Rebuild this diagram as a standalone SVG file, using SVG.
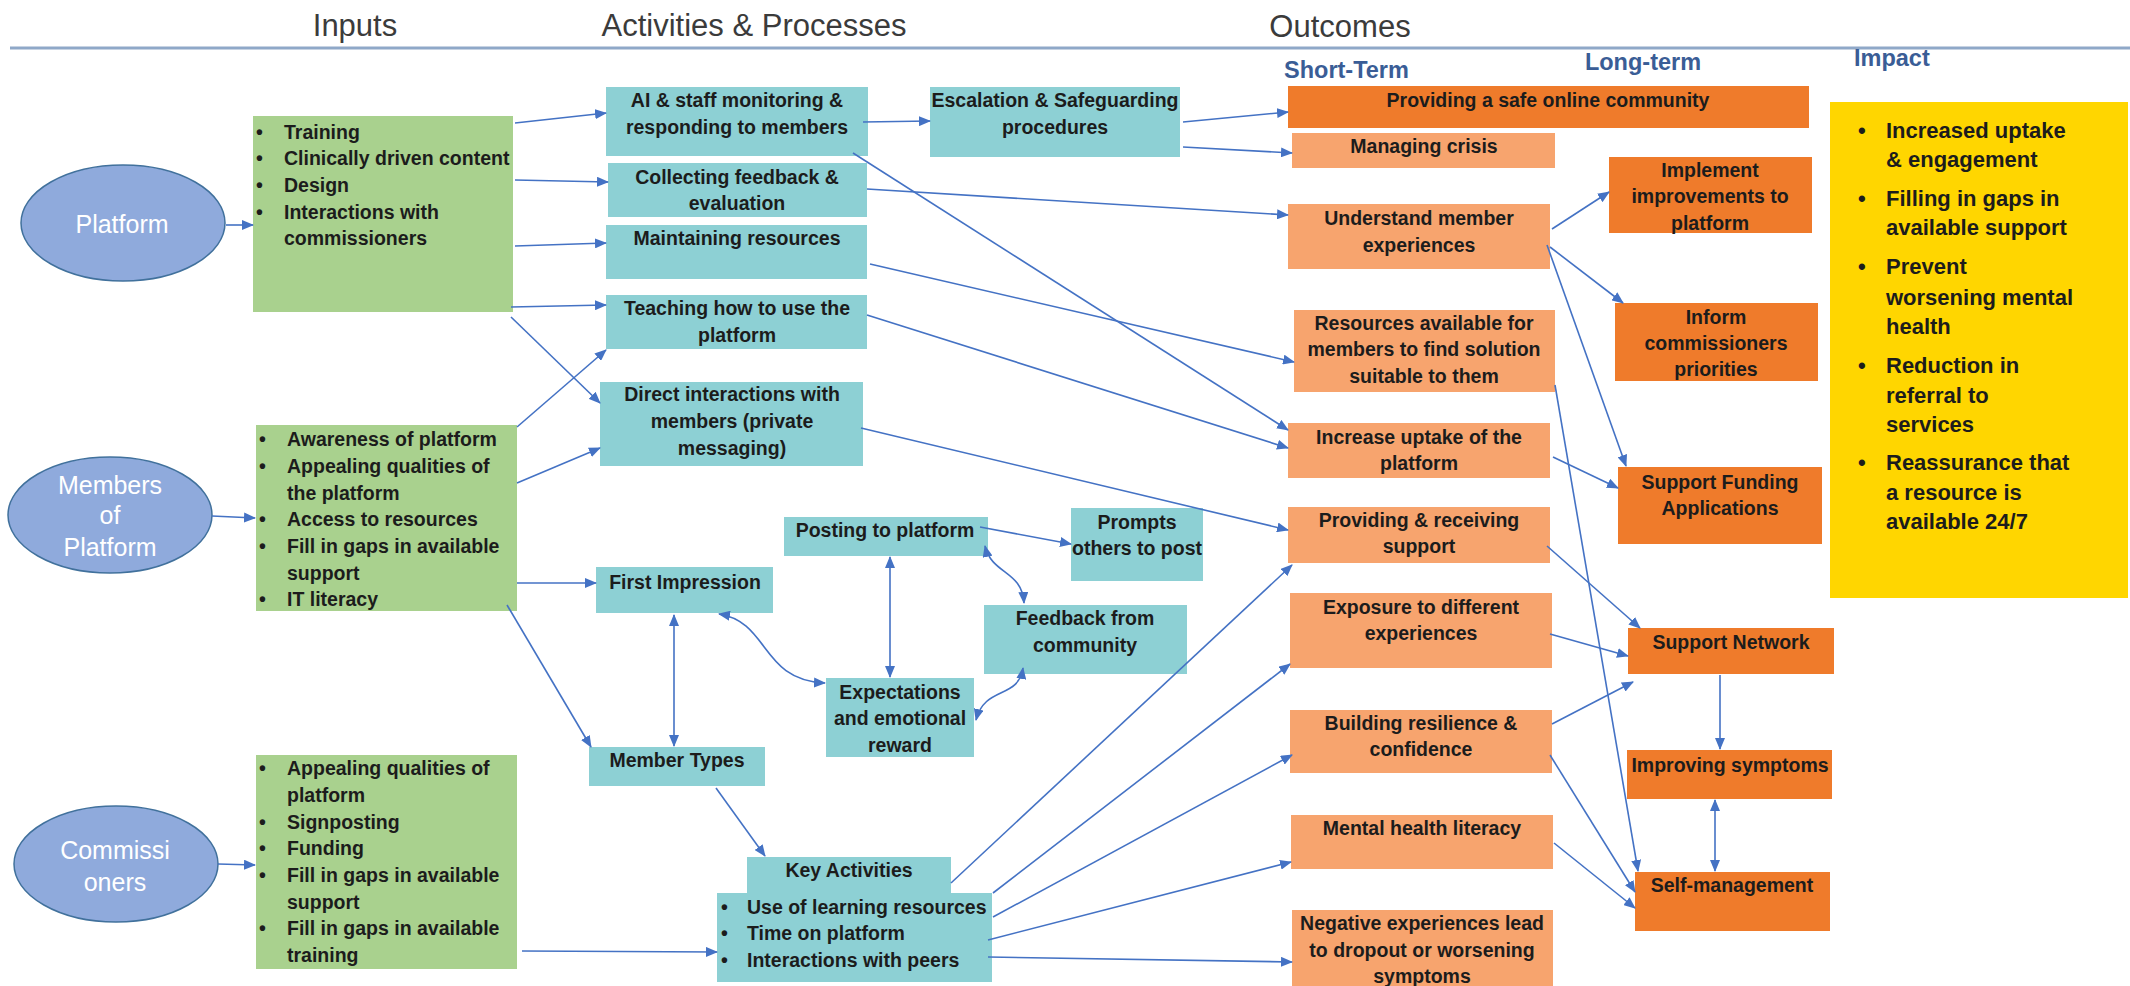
<svg xmlns="http://www.w3.org/2000/svg" width="2130" height="986" viewBox="0 0 2130 986">
<style>
.hdr{font-family:'Liberation Sans',Arial,sans-serif;font-size:31px;fill:#3b3b3b;text-anchor:middle}
.sub{font-family:'Liberation Sans',Arial,sans-serif;font-weight:bold;font-size:23.5px;fill:#3A5D96}
.ell{fill:#8FAADC;stroke:#41719C;stroke-width:1.5}
.et{font-family:'Liberation Sans',Arial,sans-serif;font-size:25px;fill:#ffffff;text-anchor:middle}
.g{fill:#A9D18E}
.tl{fill:#8DD0D4}
.so{fill:#F7A46E}
.lo{fill:#EF7B2B}
.yl{fill:#FFD600}
.bt{font-family:'Liberation Sans',Arial,sans-serif;font-weight:bold;font-size:19.5px;fill:#1c1c1c}
.c{text-anchor:middle}
.yt{font-family:'Liberation Sans',Arial,sans-serif;font-weight:bold;font-size:22px;fill:#1c1c1c}
.cn{fill:none;stroke:#4472C4;stroke-width:1.6;marker-end:url(#ah)}
.dbl{marker-start:url(#ah)}
</style>
<defs>
<marker id="ah" viewBox="0 0 12 10" refX="11" refY="5" markerWidth="12" markerHeight="10" markerUnits="userSpaceOnUse" orient="auto-start-reverse">
<path d="M0,0 L12,5 L0,10 z" fill="#4472C4"/>
</marker>
</defs>
<rect width="2130" height="986" fill="#ffffff"/>

<g id="header">
<text class="hdr" x="355" y="36">Inputs</text>
<text class="hdr" x="754" y="36">Activities &amp; Processes</text>
<text class="hdr" x="1340" y="37">Outcomes</text>
<line x1="10" y1="48" x2="2130" y2="48" stroke="#8FA8C8" stroke-width="3"/>
<text class="sub" x="1284" y="78">Short-Term</text>
<text class="sub c" x="1643" y="70">Long-term</text>
<text class="sub" x="1854" y="66">Impact</text>
</g>

<g id="platform"><ellipse class="ell" cx="123" cy="223" rx="102" ry="58"/><text class="et" x="122" y="233">Platform</text></g>
<g id="members"><ellipse class="ell" cx="110" cy="515" rx="102" ry="58"/><text class="et" x="110" y="494">Members</text><text class="et" x="110" y="524">of</text><text class="et" x="110" y="556">Platform</text></g>
<g id="commissioners"><ellipse class="ell" cx="116" cy="864" rx="102" ry="58"/><text class="et" x="115" y="859">Commissi</text><text class="et" x="115" y="891">oners</text></g>

<g id="inputs-platform"><rect class="g" x="253" y="116" width="260" height="196"/>
<text class="bt" x="256" y="139">•</text><text class="bt" x="284" y="139">Training</text>
<text class="bt" x="256" y="165">•</text><text class="bt" x="284" y="165">Clinically  driven content</text>
<text class="bt" x="256" y="192">•</text><text class="bt" x="284" y="192">Design</text>
<text class="bt" x="256" y="219">•</text><text class="bt" x="284" y="219">Interactions with</text>
<text class="bt" x="284" y="245">commissioners</text>
</g>
<g id="inputs-members"><rect class="g" x="256" y="425" width="261" height="186"/>
<text class="bt" x="259" y="446">•</text><text class="bt" x="287" y="446">Awareness of platform</text>
<text class="bt" x="259" y="473">•</text><text class="bt" x="287" y="473">Appealing  qualities of</text>
<text class="bt" x="287" y="500">the platform</text>
<text class="bt" x="259" y="526">•</text><text class="bt" x="287" y="526">Access to resources</text>
<text class="bt" x="259" y="553">•</text><text class="bt" x="287" y="553">Fill in gaps in available</text>
<text class="bt" x="287" y="580">support</text>
<text class="bt" x="259" y="606">•</text><text class="bt" x="287" y="606">IT literacy</text>
</g>
<g id="inputs-commissioners"><rect class="g" x="256" y="755" width="261" height="214"/>
<text class="bt" x="259" y="775">•</text><text class="bt" x="287" y="775">Appealing  qualities of</text>
<text class="bt" x="287" y="802">platform</text>
<text class="bt" x="259" y="829">•</text><text class="bt" x="287" y="829">Signposting</text>
<text class="bt" x="259" y="855">•</text><text class="bt" x="287" y="855">Funding</text>
<text class="bt" x="259" y="882">•</text><text class="bt" x="287" y="882">Fill in gaps in available</text>
<text class="bt" x="287" y="909">support</text>
<text class="bt" x="259" y="935">•</text><text class="bt" x="287" y="935">Fill in gaps in available</text>
<text class="bt" x="287" y="962">training</text>
</g>

<g id="ai-monitoring"><rect class="tl" x="606" y="87" width="262" height="69"/><text class="bt c" x="737" y="107">AI &amp; staff monitoring &amp;</text><text class="bt c" x="737" y="134">responding to members</text></g>
<g id="escalation"><rect class="tl" x="930" y="87" width="250" height="70"/><text class="bt c" x="1055" y="107">Escalation  &amp; Safeguarding</text><text class="bt c" x="1055" y="134">procedures</text></g>
<g id="collecting"><rect class="tl" x="608" y="163" width="259" height="54"/><text class="bt c" x="737" y="184">Collecting feedback  &amp;</text><text class="bt c" x="737" y="210">evaluation</text></g>
<g id="maintaining"><rect class="tl" x="606" y="225" width="261" height="54"/><text class="bt c" x="737" y="245">Maintaining  resources</text></g>
<g id="teaching"><rect class="tl" x="606" y="295" width="261" height="54"/><text class="bt c" x="737" y="315">Teaching  how to use the</text><text class="bt c" x="737" y="342">platform</text></g>
<g id="direct"><rect class="tl" x="600" y="382" width="263" height="84"/><text class="bt c" x="732" y="401">Direct interactions with</text><text class="bt c" x="732" y="428">members (private</text><text class="bt c" x="732" y="455">messaging)</text></g>
<g id="posting"><rect class="tl" x="784" y="517" width="204" height="39"/><text class="bt c" x="885" y="537">Posting to platform</text></g>
<g id="prompts"><rect class="tl" x="1071" y="508" width="132" height="73"/><text class="bt c" x="1137" y="529">Prompts</text><text class="bt c" x="1137" y="555">others to post</text></g>
<g id="first-impression"><rect class="tl" x="596" y="567" width="177" height="46"/><text class="bt c" x="685" y="589">First Impression</text></g>
<g id="feedback"><rect class="tl" x="984" y="605" width="203" height="69"/><text class="bt c" x="1085" y="625">Feedback from</text><text class="bt c" x="1085" y="652">community</text></g>
<g id="expectations"><rect class="tl" x="826" y="678" width="148" height="79"/><text class="bt c" x="900" y="699">Expectations</text><text class="bt c" x="900" y="725">and emotional</text><text class="bt c" x="900" y="752">reward</text></g>
<g id="member-types"><rect class="tl" x="589" y="747" width="176" height="39"/><text class="bt c" x="677" y="767">Member Types</text></g>
<g id="key-activities"><rect class="tl" x="747" y="857" width="204" height="37"/><rect class="tl" x="717" y="893" width="275" height="89"/>
<text class="bt c" x="849" y="877">Key Activities</text>
<text class="bt" x="721" y="914">•</text><text class="bt" x="747" y="914">Use of learning resources</text>
<text class="bt" x="721" y="940">•</text><text class="bt" x="747" y="940">Time on platform</text>
<text class="bt" x="721" y="967">•</text><text class="bt" x="747" y="967">Interactions with peers</text>
</g>

<g id="safe-community"><rect class="lo" x="1288" y="86" width="521" height="42"/><text class="bt c" x="1548" y="107">Providing  a safe online community</text></g>
<g id="managing-crisis"><rect class="so" x="1292" y="133" width="263" height="35"/><text class="bt c" x="1424" y="153">Managing  crisis</text></g>
<g id="understand"><rect class="so" x="1288" y="204" width="262" height="65"/><text class="bt c" x="1419" y="225">Understand member</text><text class="bt c" x="1419" y="252">experiences</text></g>
<g id="resources"><rect class="so" x="1294" y="310" width="261" height="82"/><text class="bt c" x="1424" y="330">Resources available  for</text><text class="bt c" x="1424" y="356">members to find  solution</text><text class="bt c" x="1424" y="383">suitable to them</text></g>
<g id="increase-uptake"><rect class="so" x="1288" y="423" width="262" height="55"/><text class="bt c" x="1419" y="444">Increase uptake of the</text><text class="bt c" x="1419" y="470">platform</text></g>
<g id="providing-support"><rect class="so" x="1288" y="507" width="262" height="56"/><text class="bt c" x="1419" y="527">Providing  &amp; receiving</text><text class="bt c" x="1419" y="553">support</text></g>
<g id="exposure"><rect class="so" x="1290" y="593" width="262" height="75"/><text class="bt c" x="1421" y="614">Exposure to different</text><text class="bt c" x="1421" y="640">experiences</text></g>
<g id="resilience"><rect class="so" x="1290" y="710" width="262" height="63"/><text class="bt c" x="1421" y="730">Building  resilience &amp;</text><text class="bt c" x="1421" y="756">confidence</text></g>
<g id="mh-literacy"><rect class="so" x="1291" y="815" width="262" height="54"/><text class="bt c" x="1422" y="835">Mental  health literacy</text></g>
<g id="negative"><rect class="so" x="1292" y="910" width="261" height="76"/><text class="bt c" x="1422" y="930">Negative experiences lead</text><text class="bt c" x="1422" y="957">to dropout or worsening</text><text class="bt c" x="1422" y="983">symptoms</text></g>

<g id="implement"><rect class="lo" x="1609" y="157" width="203" height="76"/><text class="bt c" x="1710" y="177">Implement</text><text class="bt c" x="1710" y="203">improvements to</text><text class="bt c" x="1710" y="230">platform</text></g>
<g id="inform"><rect class="lo" x="1615" y="303" width="203" height="78"/><text class="bt c" x="1716" y="324">Inform</text><text class="bt c" x="1716" y="350">commissioners</text><text class="bt c" x="1716" y="376">priorities</text></g>
<g id="funding"><rect class="lo" x="1618" y="467" width="204" height="77"/><text class="bt c" x="1720" y="489">Support Funding</text><text class="bt c" x="1720" y="515">Applications</text></g>
<g id="support-network"><rect class="lo" x="1628" y="628" width="206" height="46"/><text class="bt c" x="1731" y="649">Support Network</text></g>
<g id="improving"><rect class="lo" x="1627" y="750" width="205" height="49"/><text class="bt c" x="1730" y="772">Improving symptoms</text></g>
<g id="self-management"><rect class="lo" x="1635" y="872" width="195" height="59"/><text class="bt c" x="1732" y="892">Self-management</text></g>

<g id="impact"><rect class="yl" x="1830" y="102" width="298" height="496"/>
<text class="yt" x="1858" y="138">•</text><text class="yt" x="1886" y="138">Increased uptake</text>
<text class="yt" x="1886" y="167">&amp; engagement</text>
<text class="yt" x="1858" y="206">•</text><text class="yt" x="1886" y="206">Filling in gaps in</text>
<text class="yt" x="1886" y="235">available support</text>
<text class="yt" x="1858" y="274">•</text><text class="yt" x="1886" y="274">Prevent</text>
<text class="yt" x="1886" y="305">worsening mental</text>
<text class="yt" x="1886" y="334">health</text>
<text class="yt" x="1858" y="373">•</text><text class="yt" x="1886" y="373">Reduction in</text>
<text class="yt" x="1886" y="403">referral to</text>
<text class="yt" x="1886" y="432">services</text>
<text class="yt" x="1858" y="470">•</text><text class="yt" x="1886" y="470">Reassurance that</text>
<text class="yt" x="1886" y="500">a resource is</text>
<text class="yt" x="1886" y="529">available 24/7</text>
</g>

<g id="connectors">
<path class="cn" d="M226,225 L253,225"/>
<path class="cn" d="M212,516 L255,518"/>
<path class="cn" d="M218,864 L255,865"/>
<path class="cn" d="M515,123 L606,113"/>
<path class="cn" d="M515,180 L608,182"/>
<path class="cn" d="M515,246 L606,243"/>
<path class="cn" d="M511,307 L606,305"/>
<path class="cn" d="M511,317 L600,403"/>
<path class="cn" d="M517,427 L606,350"/>
<path class="cn" d="M517,483 L600,448"/>
<path class="cn" d="M517,583 L596,583"/>
<path class="cn" d="M507,605 L591,747"/>
<path class="cn" d="M522,951 L717,952"/>
<path class="cn" d="M863,122 L930,121"/>
<path class="cn" d="M853,153 L1288,430"/>
<path class="cn" d="M867,189 L1288,215"/>
<path class="cn" d="M870,264 L1294,362"/>
<path class="cn" d="M867,315 L1288,448"/>
<path class="cn" d="M861,428 L1288,530"/>
<path class="cn" d="M1183,122 L1288,112"/>
<path class="cn" d="M1183,147 L1292,153"/>
<path class="cn" d="M980,527 L1071,544"/>
<path class="cn dbl" d="M890,557 L890,677"/>
<path class="cn dbl" d="M674,615 L674,746"/>
<path class="cn dbl" d="M719,614 C770,622 760,680 825,683"/>
<path class="cn dbl" d="M985,546 C992,575 1022,570 1024,603"/>
<path class="cn dbl" d="M1023,668 C1018,700 985,685 976,720"/>
<path class="cn" d="M716,788 L765,856"/>
<path class="cn" d="M951,883 L1292,565"/>
<path class="cn" d="M993,893 L1290,664"/>
<path class="cn" d="M993,917 L1292,755"/>
<path class="cn" d="M988,940 L1291,862"/>
<path class="cn" d="M988,957 L1292,962"/>
<path class="cn" d="M1552,229 L1609,192"/>
<path class="cn" d="M1550,247 L1623,303"/>
<path class="cn" d="M1547,245 L1626,466"/>
<path class="cn" d="M1553,457 L1618,488"/>
<path class="cn" d="M1555,385 L1638,871"/>
<path class="cn" d="M1547,546 L1640,628"/>
<path class="cn" d="M1550,634 L1628,656"/>
<path class="cn" d="M1552,724 L1633,682"/>
<path class="cn" d="M1550,755 L1635,892"/>
<path class="cn" d="M1554,843 L1635,908"/>
<path class="cn" d="M1720,675 L1720,749"/>
<path class="cn dbl" d="M1715,800 L1715,871"/>
</g>
</svg>
